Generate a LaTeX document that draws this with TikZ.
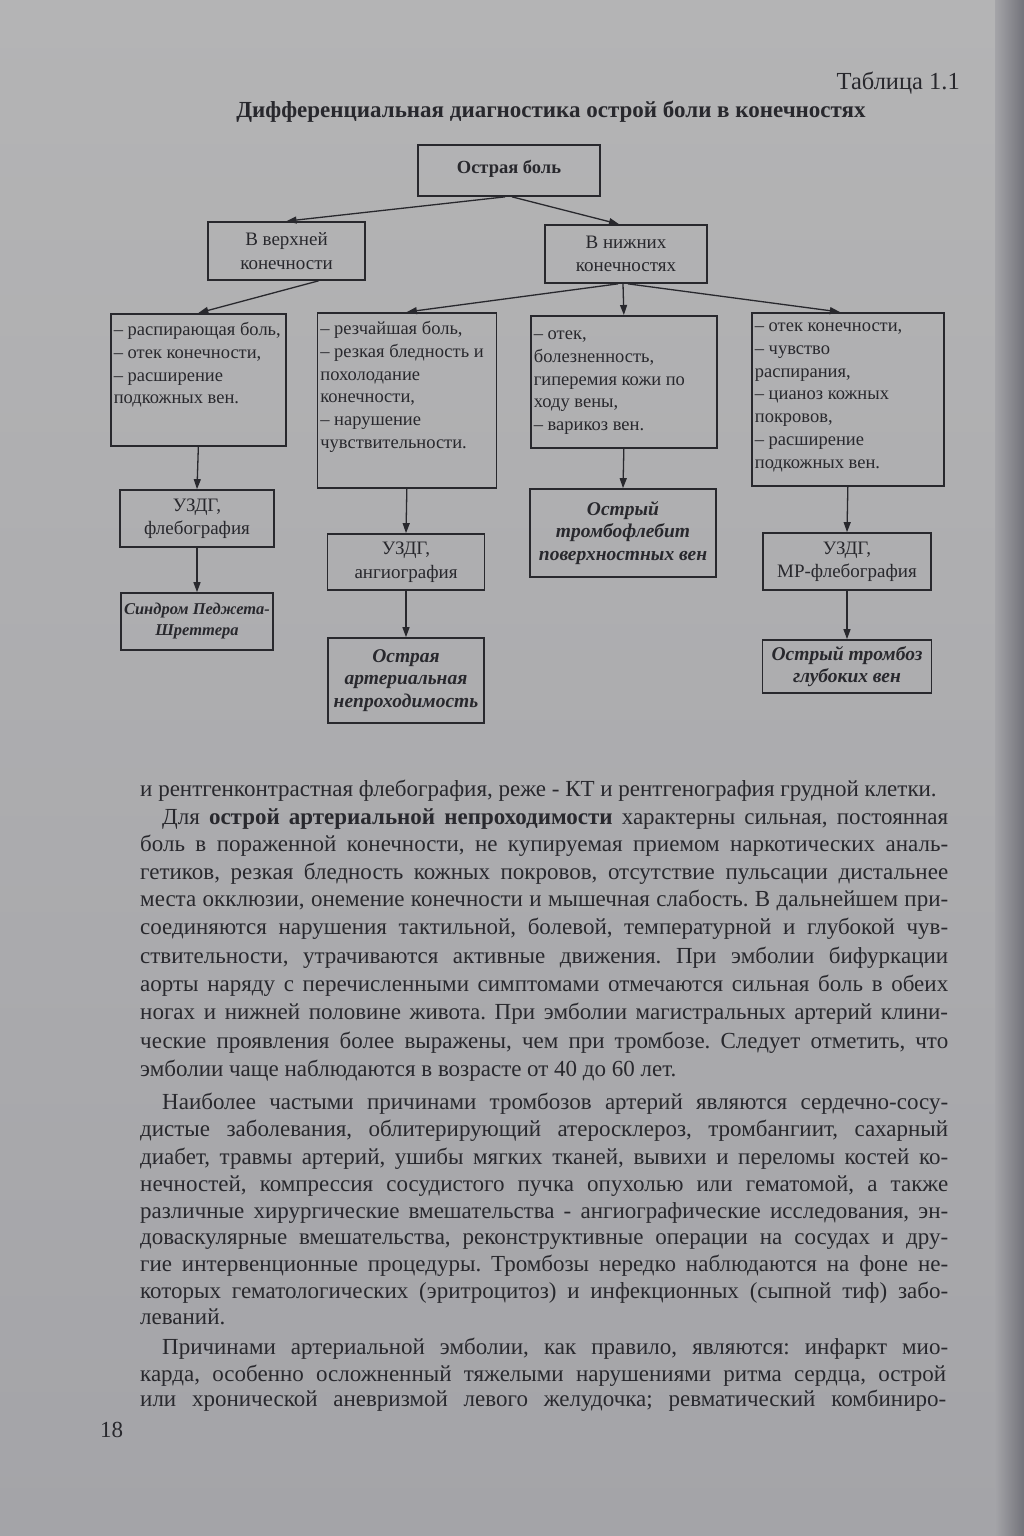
\documentclass[tikz,border=0pt]{standalone}
\usepackage{fontspec}
\setmainfont{Liberation Serif}
\usetikzlibrary{arrows.meta}
\definecolor{paperT}{RGB}{180,180,181}
\definecolor{paperB}{RGB}{164,164,168}
\definecolor{edge}{RGB}{115,115,122}
\definecolor{ink}{RGB}{40,40,45}
\frenchspacing
\begin{document}
\begin{tikzpicture}[x=1pt,y=-1pt,
  bx/.style={draw=ink, line width=1.7pt, inner sep=0pt, text=ink, align=center, font=\fontsize{19}{23.5}\selectfont},
  sym/.style={draw=ink, line width=1.7pt, inner ysep=0pt, inner xsep=3pt, anchor=north west, text=ink, font=\fontsize{18.5}{22.7}\selectfont},
  res/.style={bx, font=\fontsize{19.5}{22.5}\selectfont\bfseries\itshape},
  arr/.style={draw=ink, line width=1.3pt, -{Triangle[length=10pt,width=7pt]}},
  bodyl/.style={anchor=base west, inner sep=0pt, text=ink, font=\fontsize{23}{28}\selectfont},
]
\useasboundingbox (0,0) rectangle (1024,1536);
\shade[top color=paperT, bottom color=paperB] (0,0) rectangle (1024,1536);
\shade[left color=paperB, right color=edge] (995,0) rectangle (1024,1536);

% header
\node[anchor=base east, inner sep=0pt, text=ink, font=\fontsize{24.5}{28}\selectfont] (tab) at (960,90) {Таблица 1.1};
\node[anchor=base, inner sep=0pt, text=ink, font=\fontsize{23}{28}\selectfont\bfseries] (title) at (551,118) {Дифференциальная диагностика острой боли в конечностях};

% flowchart
\node[bx, minimum width=182pt, minimum height=51pt, font=\fontsize{18.5}{23.5}\selectfont\bfseries] (top) at (509,170.5) {Острая боль\rule[-8pt]{0pt}{1pt}};
\node[bx, minimum width=157pt, minimum height=58pt] (up) at (286.5,251) {В верхней\\конечности};
\node[bx, minimum width=162pt, minimum height=58pt] (low) at (626,254) {В нижних\\конечностях};

\node[sym] (s1) at (110,313) {\parbox[t][132pt][t]{169pt}{\raggedright\rule{0pt}{22pt}– распирающая боль,\\– отек конечности,\\– расширение\\подкожных вен.}};
\node[sym] (s2) at (316.5,312) {\parbox[t][175pt][t]{173pt}{\raggedright\rule{0pt}{22pt}– резчайшая боль,\\– резкая бледность и\\похолодание\\конечности,\\– нарушение\\чувствительности.}};
\node[sym] (s3) at (530,315) {\parbox[t][132pt][t]{180pt}{\raggedright\rule{0pt}{24pt}– отек,\\болезненность,\\гиперемия кожи по\\ходу вены,\\– варикоз вен.}};
\node[sym] (s4) at (751,312) {\parbox[t][173pt][t]{186pt}{\raggedright\rule{0pt}{19pt}– отек конечности,\\– чувство\\распирания,\\– цианоз кожных\\покровов,\\– расширение\\подкожных вен.}};

\node[bx, minimum width=154pt, minimum height=57pt] (d1) at (197,518.5) {УЗДГ,\\флебография};
\node[res, minimum width=152pt, minimum height=57pt, font=\fontsize{16.5}{21}\selectfont\bfseries\itshape] (r1) at (197,621.5) {Синдром Педжета-\\Шреттера};
\node[bx, minimum width=157pt, minimum height=56pt] (d2) at (406,562) {УЗДГ,\\ангиография};
\node[res, minimum width=156pt, minimum height=85pt] (r2) at (406,680.5) {Острая\\артериальная\\непроходимость};
\node[res, minimum width=186pt, minimum height=88pt] (r3) at (623,533) {Острый\\тромбофлебит\\поверхностных вен};
\node[bx, minimum width=168pt, minimum height=57pt] (d4) at (847,561.5) {УЗДГ,\\МР-флебография};
\node[res, minimum width=169pt, minimum height=53pt] (r4) at (847,666.5) {Острый тромбоз\\глубоких вен};

\draw[arr] ([xshift=-4pt]top.south) -- (up.north);
\draw[arr] ([xshift=3pt]top.south) -- ([xshift=-7pt]low.north);
\draw[arr] ([xshift=32pt]up.south) -- (s1.north);
\draw[arr] ([xshift=-8pt]low.south) -- (s2.north);
\draw[arr] ([xshift=-3pt]low.south) -- (s3.north);
\draw[arr] ([xshift=2pt]low.south) -- ([xshift=-8pt]s4.north);
\draw[arr] (s1.south) -- (d1.north);
\draw[arr] (d1.south) -- (r1.north);
\draw[arr] (s2.south) -- (d2.north);
\draw[arr] (d2.south) -- (r2.north);
\draw[arr] (s3.south) -- (r3.north);
\draw[arr] (s4.south) -- (d4.north);
\draw[arr] (d4.south) -- (r4.north);

% body text
\node[bodyl] (b1) at (140,796) {и рентгенконтрастная флебография, реже - КТ и рентгенография грудной клетки.};
\node[bodyl] (b2) at (162,824) {\makebox[786pt][s]{Для \textbf{острой артериальной непроходимости} характерны сильная, постоянная}};
\node[bodyl] (b3) at (140,851) {\makebox[808pt][s]{боль в пораженной конечности, не купируемая приемом наркотических аналь-}};
\node[bodyl] (b4) at (140,879) {\makebox[808pt][s]{гетиков, резкая бледность кожных покровов, отсутствие пульсации дистальнее}};
\node[bodyl] (b5) at (140,906) {\makebox[808pt][s]{места окклюзии, онемение конечности и мышечная слабость. В дальнейшем при-}};
\node[bodyl] (b6) at (140,934) {\makebox[808pt][s]{соединяются нарушения тактильной, болевой, температурной и глубокой чув-}};
\node[bodyl] (b7) at (140,963) {\makebox[808pt][s]{ствительности, утрачиваются активные движения. При эмболии бифуркации}};
\node[bodyl] (b8) at (140,991) {\makebox[808pt][s]{аорты наряду с перечисленными симптомами отмечаются сильная боль в обеих}};
\node[bodyl] (b9) at (140,1019) {\makebox[808pt][s]{ногах и нижней половине живота. При эмболии магистральных артерий клини-}};
\node[bodyl] (b10) at (140,1048) {\makebox[808pt][s]{ческие проявления более выражены, чем при тромбозе. Следует отметить, что}};
\node[bodyl] (b11) at (140,1076) {эмболии чаще наблюдаются в возрасте от 40 до 60 лет.};
\node[bodyl] (b12) at (162,1109) {\makebox[786pt][s]{Наиболее частыми причинами тромбозов артерий являются сердечно-сосу-}};
\node[bodyl] (b13) at (140,1136) {\makebox[808pt][s]{дистые заболевания, облитерирующий атеросклероз, тромбангиит, сахарный}};
\node[bodyl] (b14) at (140,1164) {\makebox[808pt][s]{диабет, травмы артерий, ушибы мягких тканей, вывихи и переломы костей ко-}};
\node[bodyl] (b15) at (140,1191) {\makebox[808pt][s]{нечностей, компрессия сосудистого пучка опухолью или гематомой, а также}};
\node[bodyl] (b16) at (140,1218) {\makebox[808pt][s]{различные хирургические вмешательства - ангиографические исследования, эн-}};
\node[bodyl] (b17) at (140,1244) {\makebox[808pt][s]{доваскулярные вмешательства, реконструктивные операции на сосудах и дру-}};
\node[bodyl] (b18) at (140,1271) {\makebox[808pt][s]{гие интервенционные процедуры. Тромбозы нередко наблюдаются на фоне не-}};
\node[bodyl] (b19) at (140,1298) {\makebox[808pt][s]{которых гематологических (эритроцитоз) и инфекционных (сыпной тиф) забо-}};
\node[bodyl] (b20) at (140,1324) {леваний.};
\node[bodyl] (b21) at (162,1354) {\makebox[786pt][s]{Причинами артериальной эмболии, как правило, являются: инфаркт мио-}};
\node[bodyl] (b22) at (140,1381) {\makebox[806pt][s]{карда, особенно осложненный тяжелыми нарушениями ритма сердца, острой}};
\node[bodyl] (b23) at (140,1406) {\makebox[806pt][s]{или хронической аневризмой левого желудочка; ревматический комбиниро-}};
\node[bodyl] (pg) at (100,1437) {18};
\end{tikzpicture}
\end{document}
